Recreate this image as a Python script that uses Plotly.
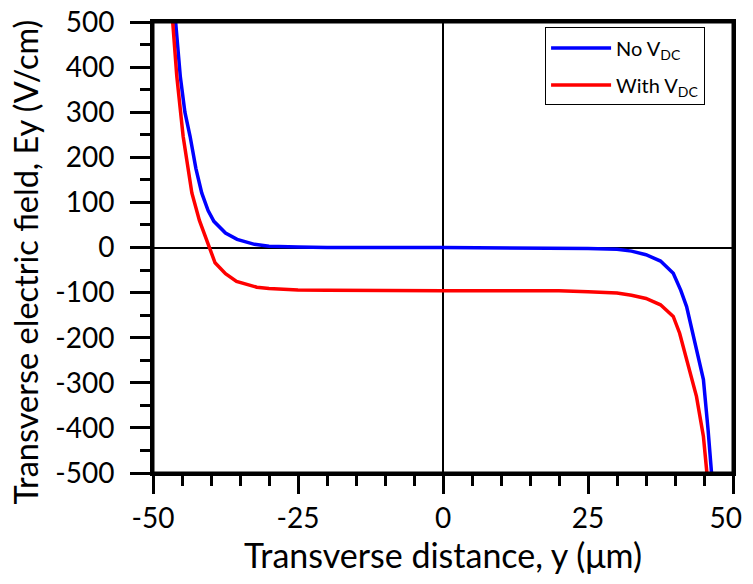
import plotly.graph_objects as go

# No V_DC series
blue_x = [-46.1, -45.3, -44.5, -43.6, -42.6, -41.6, -40.5, -39.5, -37.5, -35.5, -32.5, -30, -25, -20,
          0, 20, 25, 30, 32.5, 35, 37.5, 39.7, 41, 42, 43, 43.7, 44.9, 45.7, 46.3]
blue_y = [500, 380, 300, 246, 175, 121, 82, 58, 32, 18, 7, 3, 1, 0,
          0, -1, -2, -4, -8, -16, -30, -57, -95, -131, -185, -220, -293, -404, -500]

# With V_DC series
red_x = [-46.6, -45.9, -44.8, -43.3, -42.0, -40.5, -39.3, -37.5, -35.6, -32.1, -30, -25, -20,
         0, 20, 25, 30, 32.5, 35, 37.5, 39.7, 40.8, 41.7, 42.7, 43.7, 44.9, 45.5]
red_y = [500, 380, 246, 121, 60, 10, -34, -58, -75, -88, -91, -94, -95,
         -96, -96, -98, -101, -106, -113, -127, -153, -190, -234, -280, -330, -419, -500]

x_ticks = [-50, -25, 0, 25, 50]
x_labels = ["-50", "-25", "0", "25", "50\u00a0\u00a0"]
y_ticks = [-500, -400, -300, -200, -100, 0, 100, 200, 300, 400, 500]
y_labels = ["-500", "-400", "-300", "-200", "-100", "0", "100", "200", "300", "400", "500"]

x_title = "Transverse distance, y (\u03bcm)"
y_title = "Transverse electric field, Ey (V/cm)"

FONT = "Lato, 'Open Sans', sans-serif"

fig = go.Figure()
fig.add_trace(go.Scatter(x=blue_x, y=blue_y, mode="lines", name="No V<sub>DC</sub>",
                         legendgroup="a", line=dict(color="#0000ff", width=3.5)))
fig.add_trace(go.Scatter(x=red_x, y=red_y, mode="lines", name="With V<sub>DC</sub>",
                         legendgroup="b", line=dict(color="#ff0000", width=3.5)))

fig.add_shape(type="rect", xref="paper", yref="paper", x0=0, x1=1, y0=0, y1=1,
              line=dict(color="black", width=3), layer="above")

# y-axis title (placed as an annotation so it can be positioned like the reference)
fig.add_annotation(text=y_title, xref="paper", yref="paper", x=0, y=0.5,
                   xanchor="center", yanchor="middle", xshift=-128, yshift=-15,
                   textangle=-90, showarrow=False, font=dict(size=32.5, family=FONT, color="black"))

fig.update_layout(
    width=745, height=568,
    margin=dict(l=145, r=20, t=14, b=103, autoexpand=False),
    paper_bgcolor="white", plot_bgcolor="white",
    font=dict(family=FONT, color="black", size=28),
    showlegend=True,
    legend=dict(x=0.676, y=0.988, xanchor="left", yanchor="top",
                bordercolor="black", borderwidth=1, bgcolor="white",
                itemwidth=60,
                font=dict(size=20, family=FONT), tracegroupgap=8),
    xaxis=dict(range=[-50, 50], tickvals=x_ticks, ticktext=x_labels, ticks="outside", ticklen=18, tickwidth=2.5,
               tickcolor="black", showline=True, linecolor="black", linewidth=3, mirror=True,
               showgrid=False, zeroline=True, zerolinecolor="black", zerolinewidth=2,
               ticklabeloverflow="allow", automargin=False,
               minor=dict(dtick=5, ticks="outside", ticklen=10, tickwidth=2.5, tickcolor="black", showgrid=False),
               title=dict(text=x_title, font=dict(size=34), standoff=12),
               tickfont=dict(size=28)),
    yaxis=dict(range=[-500, 500], tickvals=y_ticks, ticktext=y_labels, ticks="outside", ticklen=20, tickwidth=2.5,
               tickcolor="black", showline=True, linecolor="black", linewidth=3, mirror=True,
               showgrid=False, zeroline=True, zerolinecolor="black", zerolinewidth=2,
               ticklabeloverflow="allow", automargin=False,
               minor=dict(dtick=50, ticks="outside", ticklen=10, tickwidth=2.5, tickcolor="black", showgrid=False),
               ticklabelstandoff=10,
               tickfont=dict(size=28)),
)

fig.write_html("out.html")
